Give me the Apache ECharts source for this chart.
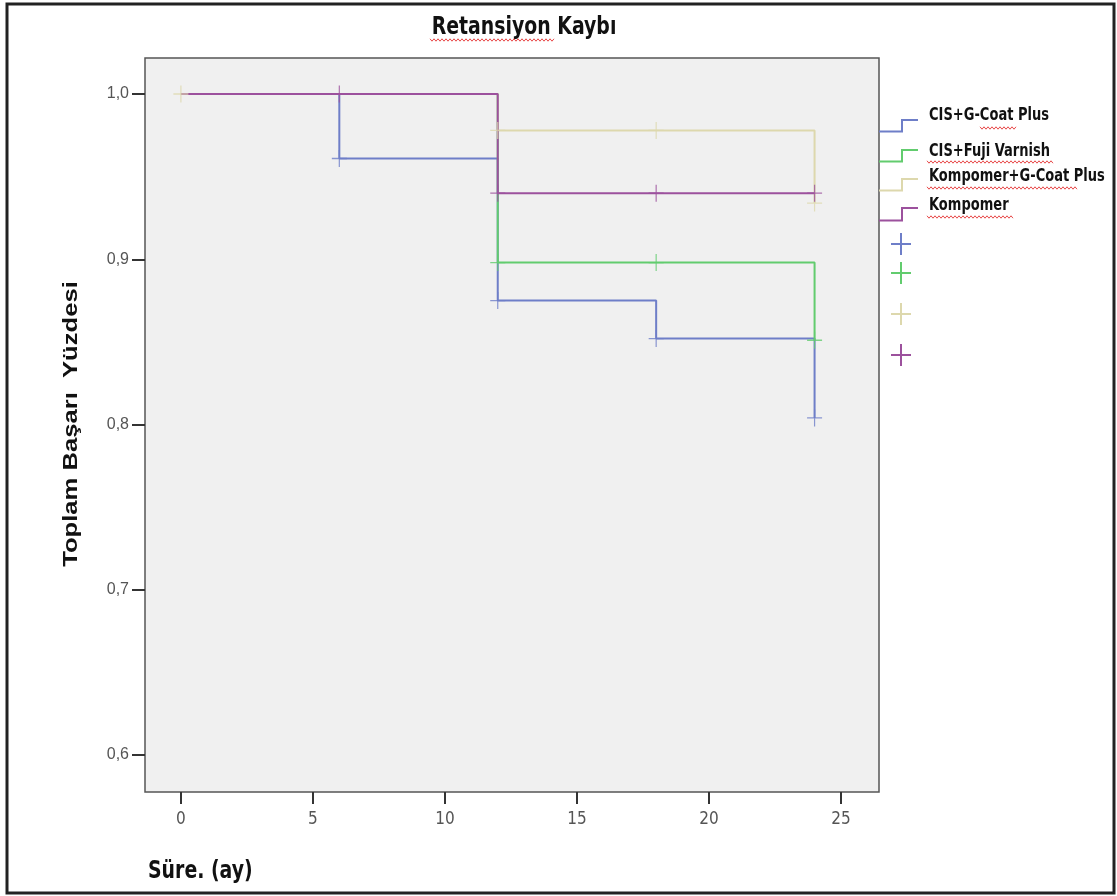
<!DOCTYPE html>
<html><head><meta charset="utf-8">
<script src="https://cdn.jsdelivr.net/npm/echarts@6/dist/echarts.min.js"></script>
<style>html,body{margin:0;padding:0;background:#fff}#c{width:1117px;height:896px}</style>
</head><body><div id="c"></div>
<script>
// ---- data ----
const seriesNames = ['CIS+G-Coat Plus', 'CIS+Fuji Varnish', 'Kompomer+G-Coat Plus', 'Kompomer'];
const blueSteps = [[0, 1.0], [6, 0.961], [12, 0.875], [18, 0.852], [24, 0.804]];
const blueCensored = [[6, 0.961], [12, 0.875], [18, 0.852], [24, 0.804]];
const greenSteps = [[0, 1.0], [12, 0.898], [24, 0.851]];
const greenCensored = [[12, 0.898], [18, 0.898], [24, 0.851]];
const beigeSteps = [[0, 1.0], [12, 0.978], [24, 0.934]];
const beigeCensored = [[0, 1.0], [12, 0.978], [18, 0.978], [24, 0.934]];
const purpleSteps = [[0, 1.0], [12, 0.940], [24, 0.940]];
const purpleCensored = [[6, 1.0], [12, 0.940], [18, 0.940], [24, 0.940]];
const xTicks = [0, 5, 10, 15, 20, 25];
const yTicks = [0.6, 0.7, 0.8, 0.9, 1.0];
const titleText = 'Retansiyon Kaybı';
const xName = 'Süre. (ay)';
const yName = 'Toplam Başarı  Yüzdesi';

// ---- styling ----
const NARROW = "'Liberation Sans Narrow', 'DejaVu Sans Condensed', 'Roboto Condensed', sans-serif";
const ARIAL = "'Liberation Sans', Arial, sans-serif";
const colors = ['#6e7ec8', '#62cc6e', '#ddd8ad', '#9c519d'];
const stepsAll = [blueSteps, greenSteps, beigeSteps, purpleSteps];
const censAll = [blueCensored, greenCensored, beigeCensored, purpleCensored];
const plusPath = 'path://M0,9.2L20,9.2L20,10.8L0,10.8ZM9.2,0L10.8,0L10.8,20L9.2,20Z';

const series = [];
stepsAll.forEach((d, i) => {
  series.push({
    name: seriesNames[i], type: 'line', step: 'end', data: d, symbol: 'none',
    lineStyle: {color: colors[i], width: 2}, z: 2 + i, animation: false
  });
});
censAll.forEach((d, i) => {
  series.push({
    name: seriesNames[i] + ' censored', type: 'scatter', data: d, symbol: plusPath,
    symbolSize: [15, 17], itemStyle: {color: colors[i]}, z: 10 + i, animation: false
  });
});

// wavy spell-check underline (decoration)
function wavy(x1, x2, y) {
  const pts = [];
  let up = true;
  for (let x = x1; x <= x2; x += 2) { pts.push([x, y + (up ? -1.2 : 1.2)]); up = !up; }
  return {type: 'polyline', shape: {points: pts}, style: {stroke: '#e84848', lineWidth: 1, fill: 'none'}, silent: true};
}

// legend via graphic
const legendLevels = [[131.5, 120, 115], [161.5, 150, 151], [190.5, 179, 176], [220.5, 208, 205]];
const plusY = [244, 273, 314, 355];
const graphic = [
  {type: 'rect', shape: {x: 7, y: 4, width: 1107, height: 889}, style: {fill: 'none', stroke: '#222', lineWidth: 3}, silent: true},
  {type: 'text', x: 524, y: 28, scaleY: 1.15, style: {text: titleText, fontFamily: NARROW, fontWeight: 'bold', fontSize: 21, fill: '#111', verticalAlign: 'middle', align: 'center'}},
  {type: 'text', x: 148, y: 872, scaleY: 1.15, style: {text: xName, fontFamily: NARROW, fontWeight: 'bold', fontSize: 21, fill: '#111', verticalAlign: 'middle', align: 'left'}},
  {type: 'text', x: 71, y: 424, rotation: Math.PI / 2, scaleX: 1.22,
    style: {text: yName, fontFamily: ARIAL, fontWeight: 'bold', fontSize: 21, fill: '#111', align: 'center', verticalAlign: 'middle'}},
  wavy(430, 555, 40),
  wavy(980, 1017, 128),
  wavy(927, 1053, 162),
  wavy(927, 1078, 188),
  wavy(927, 1014, 217)
];
legendLevels.forEach((lv, i) => {
  graphic.push({type: 'polyline', shape: {points: [[879, lv[0]], [902, lv[0]], [902, lv[1]], [918, lv[1]]]}, style: {stroke: colors[i], lineWidth: 2, fill: 'none'}});
  graphic.push({type: 'text', x: 929, y: lv[2], scaleY: 1.2, style: {text: seriesNames[i], fontFamily: NARROW, fontWeight: 'bold', fontSize: 14.5, fill: '#111', verticalAlign: 'middle'}});
  graphic.push({type: 'line', shape: {x1: 891, y1: plusY[i], x2: 911, y2: plusY[i]}, style: {stroke: colors[i], lineWidth: 2}});
  graphic.push({type: 'line', shape: {x1: 901, y1: plusY[i] - 11, x2: 901, y2: plusY[i] + 11}, style: {stroke: colors[i], lineWidth: 2}});
});

const chart = echarts.init(document.getElementById('c'), null, {renderer: 'canvas'});
chart.setOption({
  backgroundColor: '#fff',
  animation: false,
  grid: {left: 145, top: 58, width: 734, height: 734, show: true, backgroundColor: '#f0f0f0', borderColor: '#555', borderWidth: 1.5},
  xAxis: {
    type: 'value', min: -1.36, max: 26.44,
    axisLine: {show: false, onZero: false},
    splitLine: {show: false},
    axisTick: {show: true, length: 12, customValues: xTicks, lineStyle: {color: '#333', width: 2}},
    axisLabel: {customValues: xTicks, margin: 19, color: '#555', fontFamily: NARROW, fontSize: 17}
  },
  yAxis: {
    type: 'value', min: 0.5776, max: 1.0218,
    axisLine: {show: false, onZero: false},
    splitLine: {show: false},
    axisTick: {show: true, length: 13, customValues: yTicks, lineStyle: {color: '#333', width: 2}},
    axisLabel: {customValues: yTicks, margin: 16, color: '#555', fontFamily: ARIAL, fontSize: 16,
      formatter: v => v.toFixed(1).replace('.', ',')}
  },
  series: series,
  graphic: graphic
});
</script></body></html>
